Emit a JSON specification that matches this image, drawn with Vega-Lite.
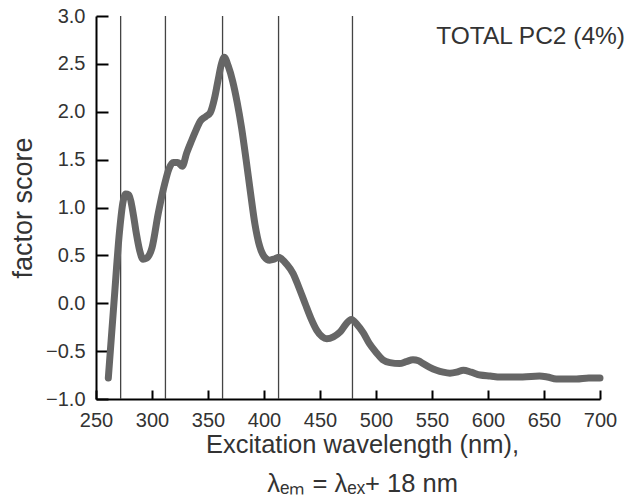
{
  "$schema": "https://vega.github.io/schema/vega-lite/v6.json",
  "width": 504,
  "height": 383,
  "autosize": "none",
  "padding": {"left": 96, "top": 16, "right": 35, "bottom": 101},
  "background": "white",
  "title": {
    "text": "TOTAL PC2 (4%)",
    "anchor": "end",
    "frame": "group",
    "dx": 25,
    "offset": -43,
    "font": "Liberation Sans",
    "fontSize": 24.5,
    "fontWeight": "normal",
    "color": "#333333"
  },
  "datasets": {
    "curve": [
      {"wl": 261, "score": -0.78},
      {"wl": 266, "score": 0.0},
      {"wl": 271, "score": 0.75},
      {"wl": 274, "score": 1.05},
      {"wl": 276.5, "score": 1.14},
      {"wl": 279.5, "score": 1.13},
      {"wl": 283, "score": 0.95},
      {"wl": 286, "score": 0.73},
      {"wl": 289, "score": 0.55},
      {"wl": 292, "score": 0.46},
      {"wl": 295, "score": 0.47},
      {"wl": 300, "score": 0.58},
      {"wl": 305.6, "score": 0.94},
      {"wl": 311.6, "score": 1.26},
      {"wl": 315, "score": 1.4},
      {"wl": 319, "score": 1.47},
      {"wl": 323, "score": 1.47},
      {"wl": 327, "score": 1.43},
      {"wl": 331, "score": 1.57},
      {"wl": 335.4, "score": 1.7},
      {"wl": 339, "score": 1.8},
      {"wl": 343, "score": 1.9},
      {"wl": 348, "score": 1.95},
      {"wl": 352, "score": 1.99},
      {"wl": 356, "score": 2.15},
      {"wl": 359, "score": 2.33},
      {"wl": 362, "score": 2.5},
      {"wl": 364.5, "score": 2.57},
      {"wl": 368, "score": 2.48},
      {"wl": 372, "score": 2.32},
      {"wl": 376, "score": 2.1},
      {"wl": 380, "score": 1.83},
      {"wl": 384, "score": 1.5},
      {"wl": 388, "score": 1.15},
      {"wl": 392, "score": 0.82},
      {"wl": 396, "score": 0.6},
      {"wl": 400, "score": 0.49},
      {"wl": 405, "score": 0.45},
      {"wl": 409, "score": 0.46},
      {"wl": 413, "score": 0.48},
      {"wl": 416, "score": 0.46},
      {"wl": 420, "score": 0.41},
      {"wl": 426, "score": 0.31},
      {"wl": 431, "score": 0.17},
      {"wl": 436.6, "score": 0.0},
      {"wl": 442, "score": -0.16},
      {"wl": 447, "score": -0.28},
      {"wl": 452, "score": -0.35},
      {"wl": 456, "score": -0.37},
      {"wl": 462, "score": -0.35},
      {"wl": 468, "score": -0.3},
      {"wl": 473, "score": -0.22},
      {"wl": 478, "score": -0.17},
      {"wl": 483, "score": -0.22},
      {"wl": 488.7, "score": -0.31},
      {"wl": 494, "score": -0.42},
      {"wl": 500.6, "score": -0.52},
      {"wl": 506, "score": -0.59},
      {"wl": 512.5, "score": -0.62},
      {"wl": 521, "score": -0.63},
      {"wl": 527, "score": -0.61},
      {"wl": 533, "score": -0.59},
      {"wl": 538, "score": -0.6},
      {"wl": 542, "score": -0.63},
      {"wl": 548, "score": -0.67},
      {"wl": 554, "score": -0.7},
      {"wl": 560, "score": -0.72},
      {"wl": 566, "score": -0.73},
      {"wl": 572, "score": -0.72},
      {"wl": 578, "score": -0.7},
      {"wl": 585, "score": -0.72},
      {"wl": 593, "score": -0.75},
      {"wl": 602, "score": -0.76},
      {"wl": 611, "score": -0.77},
      {"wl": 620, "score": -0.77},
      {"wl": 631, "score": -0.77},
      {"wl": 646, "score": -0.76},
      {"wl": 653, "score": -0.77},
      {"wl": 661, "score": -0.79},
      {"wl": 670, "score": -0.79},
      {"wl": 679, "score": -0.79},
      {"wl": 690, "score": -0.78},
      {"wl": 700, "score": -0.78}
    ],
    "markers": [
      {"wl": 272},
      {"wl": 312},
      {"wl": 363},
      {"wl": 413},
      {"wl": 479}
    ]
  },
  "layer": [
    {
      "data": {"name": "markers"},
      "mark": {"type": "rule", "color": "#444444", "strokeWidth": 1.3},
      "encoding": {
        "x": {"field": "wl", "type": "quantitative"}
      }
    },
    {
      "data": {"name": "curve"},
      "mark": {"type": "line", "color": "#666666", "strokeWidth": 7, "strokeCap": "round", "strokeJoin": "round", "interpolate": "monotone"},
      "encoding": {
        "x": {
          "field": "wl", "type": "quantitative",
          "scale": {"domain": [250, 700], "nice": false, "zero": false},
          "axis": {
            "values": [250, 300, 350, 400, 450, 500, 550, 600, 650, 700],
            "format": "d",
            "labelFlush": false,
            "labelOverlap": false,
            "title": ["Excitation wavelength (nm),", "λₑₘ = λₑₓ+ 18 nm"],
            "tickSize": -9,
            "labelPadding": 20,
            "titlePadding": 2,
            "titleX": 266,
            "titleFontSize": 25.5,
            "titleLineHeight": 39
          }
        },
        "y": {
          "field": "score", "type": "quantitative",
          "scale": {"domain": [-1, 3], "nice": false, "zero": false},
          "axis": {
            "values": [-1, -0.5, 0, 0.5, 1, 1.5, 2, 2.5, 3],
            "format": ".1f",
            "labelFlush": false,
            "labelOverlap": false,
            "title": "factor score",
            "titleFontSize": 27,
            "tickSize": -12,
            "labelPadding": 23,
            "titlePadding": 8
          }
        }
      }
    }
  ],
  "config": {
    "view": {"stroke": null},
    "axis": {
      "grid": false,
      "domainColor": "#000000",
      "domainWidth": 2,
      "tickColor": "#000000",
      "tickWidth": 2,
      "labelFont": "Liberation Sans",
      "labelFontSize": 20,
      "labelColor": "#333333",
      "titleFont": "Liberation Sans",
      "titleFontSize": 25,
      "titleFontWeight": "normal",
      "titleColor": "#333333"
    }
  }
}
